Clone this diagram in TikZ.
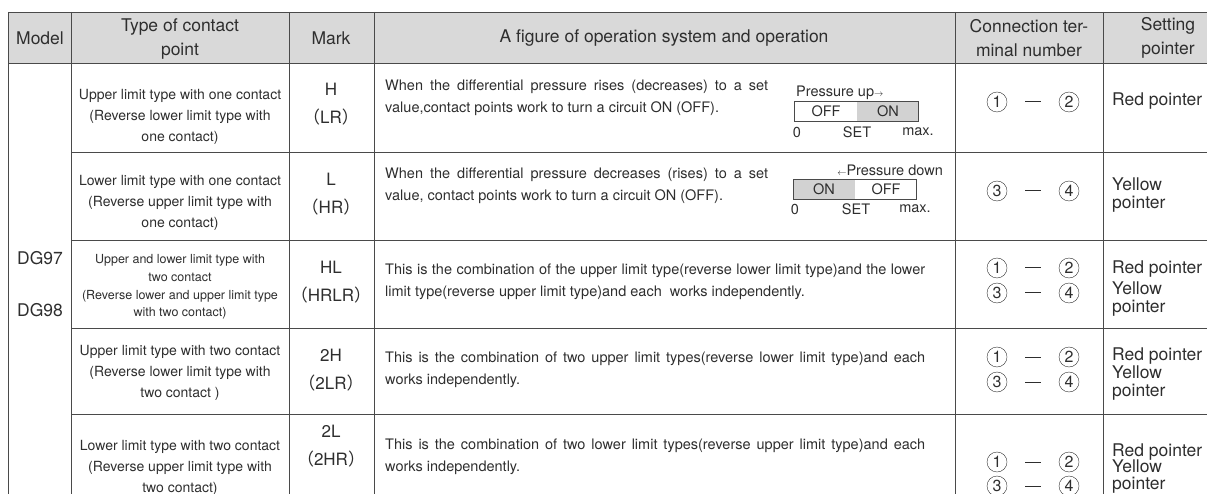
\documentclass[tikz,border=0pt]{standalone}
\usepackage{fontspec}
\setmainfont{TeX Gyre Heros}
\newfontfamily\cjkfont{Noto Sans CJK SC}
\usepackage{tikz}
\usetikzlibrary{calc, shapes, arrows}
\definecolor{hdrgray}{HTML}{D9D9D9}
\definecolor{rulegray}{HTML}{4A4A4A}
\definecolor{inkgray}{HTML}{2E2E2E}
\definecolor{swgray}{HTML}{D2D2D2}
\newcommand{\lp}{{\cjkfont （}}
\newcommand{\rp}{{\cjkfont ）}}

\begin{document}
\begin{tikzpicture}[x=1pt,y=-1pt,text=inkgray]
\tikzstyle{head}=[font=\fontsize{17.5}{24}\selectfont,align=center,inner sep=0pt]
\tikzstyle{kind}=[font=\fontsize{14}{21}\selectfont,align=center,inner sep=0pt]
\tikzstyle{markcell}=[font=\fontsize{17}{28}\selectfont,align=center,inner sep=0pt]
\tikzstyle{desc}=[font=\fontsize{14.5}{21.5}\selectfont,align=justify,inner sep=0pt,anchor=west]
\tikzstyle{term}=[circle,draw=inkgray,inner sep=0pt,minimum size=20pt,font=\fontsize{16}{16}\selectfont]
\tikzstyle{hand}=[font=\fontsize{17.5}{18}\selectfont,align=left,inner sep=0pt,anchor=west]
\tikzstyle{gauge}=[font=\fontsize{14.5}{15}\selectfont,inner sep=0pt]
\useasboundingbox (0,0) rectangle (1207,494);
\clip (0,0) rectangle (1207,494);
% grid of the table
\fill[hdrgray] (8,12) rectangle (1220,63);
\draw[rulegray] (8,12) -- (1220,12) (8,63) -- (1220,63);
\foreach \y in {152,240,328,414} \draw[rulegray] (71,\y) -- (1220,\y);
\foreach \x in {8,71,289,374,955,1103} \draw[rulegray] (\x,12) -- (\x,500);
% header
\node[head] (H_0) at (40,38) {Model};
\node[head] (H_1) at (180,39) {Type of contact\\point};
\node[head] (H_2) at (331,38) {Mark};
\node[head] (H_3) at (664,38) {A figure of operation system and operation};
\node[head] (H_4) at (1029,38) {Connection ter-\\minal number};
\node[head] (H_5) at (1168,38) {Setting\\pointer};
% model
\node[head] (M_0) at (40,258) {DG97};
\node[head] (M_1) at (40,310) {DG98};
% type of contact point
\node[kind] (T_1) at (180,117) {Upper limit type with one contact\\(Reverse lower limit type with\\one contact)};
\node[kind] (T_2) at (180,203) {Lower limit type with one contact\\(Reverse upper limit type with\\one contact)};
\node[kind,font=\fontsize{12.5}{17.7}\selectfont] (T_3) at (180,287) {Upper and lower limit type with\\two contact\\(Reverse lower and upper limit type\\with two contact)};
\node[kind] (T_4) at (180,373) {Upper limit type with two contact\\(Reverse lower limit type with\\two contact )};
\node[kind] (T_5) at (180,468) {Lower limit type with two contact\\(Reverse upper limit type with\\two contact)};
% mark
\node[markcell] (K_1) at (331,104) {H\\\lp LR\rp};
\node[markcell] (K_2) at (331,194) {L\\\lp HR\rp};
\node[markcell] (K_3) at (331,282) {HL\\\lp HRLR\rp};
\node[markcell] (K_4) at (331,370) {2H\\\lp 2LR\rp};
\node[markcell] (K_5) at (331,446) {2L\\\lp 2HR\rp};
% operation
\node[desc,text width=383pt] (F_1) at (385,98) {When the differential pressure rises (decreases) to a set\linebreak value,contact points work to turn a circuit ON (OFF).};
\node[desc,text width=383pt] (F_2) at (385,186) {When the differential pressure decreases (rises) to a set\linebreak value, contact points work to turn a circuit ON (OFF).};
\node[desc,text width=540pt] (F_3) at (385,282) {This is the combination of the upper limit type(reverse lower limit type)and the lower\linebreak limit type(reverse upper limit type)and each\ \ works independently.};
\node[desc,text width=540pt] (F_4) at (385,370) {This is the combination of two upper limit types(reverse lower limit type)and each\linebreak works independently.};
\node[desc,text width=540pt] (F_5) at (385,457) {This is the combination of two lower limit types(reverse upper limit type)and each\linebreak works independently.};
% pressure up gauge
\fill[swgray] (857,101) rectangle (918,121);
\draw[rulegray] (794,101) rectangle (918,121);
\node[gauge,anchor=west] (U_0) at (796,93) {Pressure up{\fontsize{9}{9}\selectfont$\rightarrow$}};
\node[gauge] (U_1) at (826,111) {OFF};
\node[gauge] (U_2) at (888,111) {ON};
\node[gauge] (U_3) at (797,132) {0};
\node[gauge] (U_4) at (857,132) {SET};
\node[gauge] (U_5) at (918,132) {max.};
% pressure down gauge
\fill[swgray] (793,179) rectangle (855,199);
\draw[rulegray] (793,179) rectangle (916,199);
\node[gauge,anchor=east] (D_0) at (943,170) {{\fontsize{9}{9}\selectfont$\leftarrow$}Pressure down};
\node[gauge] (D_1) at (824,189) {ON};
\node[gauge] (D_2) at (886,189) {OFF};
\node[gauge] (D_3) at (795,209) {0};
\node[gauge] (D_4) at (856,209) {SET};
\node[gauge] (D_5) at (915,209) {max.};
% terminals
\tikzstyle{link}=[inkgray,line width=1pt,shorten <=18pt,shorten >=18pt]
\node[term] (C_11) at (997,102) {1};
\node[term] (C_12) at (1069,102) {2};
\node[term] (C_23) at (997,191) {3};
\node[term] (C_24) at (1069,191) {4};
\node[term] (C_31) at (997,268) {1};
\node[term] (C_32) at (1069,268) {2};
\node[term] (C_33) at (997,293) {3};
\node[term] (C_34) at (1069,293) {4};
\node[term] (C_41) at (997,357) {1};
\node[term] (C_42) at (1069,357) {2};
\node[term] (C_43) at (997,382) {3};
\node[term] (C_44) at (1069,382) {4};
\node[term] (C_51) at (997,462) {1};
\node[term] (C_52) at (1069,462) {2};
\node[term] (C_53) at (997,486) {3};
\node[term] (C_54) at (1069,486) {4};
\draw[link] (C_11) -- (C_12);
\draw[link] (C_23) -- (C_24);
\draw[link] (C_31) -- (C_32);
\draw[link] (C_33) -- (C_34);
\draw[link] (C_41) -- (C_42);
\draw[link] (C_43) -- (C_44);
\draw[link] (C_51) -- (C_52);
\draw[link] (C_53) -- (C_54);
% setting pointer
\node[hand] (P_1) at (1112,101) {Red pointer};
\node[hand] (P_2) at (1112,195) {Yellow\\pointer};
\node[hand] (P_3) at (1112,269) {Red pointer};
\node[hand] (P_4) at (1112,299) {Yellow\\pointer};
\node[hand] (P_5) at (1112,356) {Red pointer};
\node[hand] (P_6) at (1112,383) {Yellow\\pointer};
\node[hand] (P_7) at (1112,452) {Red pointer};
\node[hand,font=\fontsize{17.5}{17}\selectfont] (P_8) at (1112,477) {Yellow\\pointer};
\end{tikzpicture}
\end{document}
